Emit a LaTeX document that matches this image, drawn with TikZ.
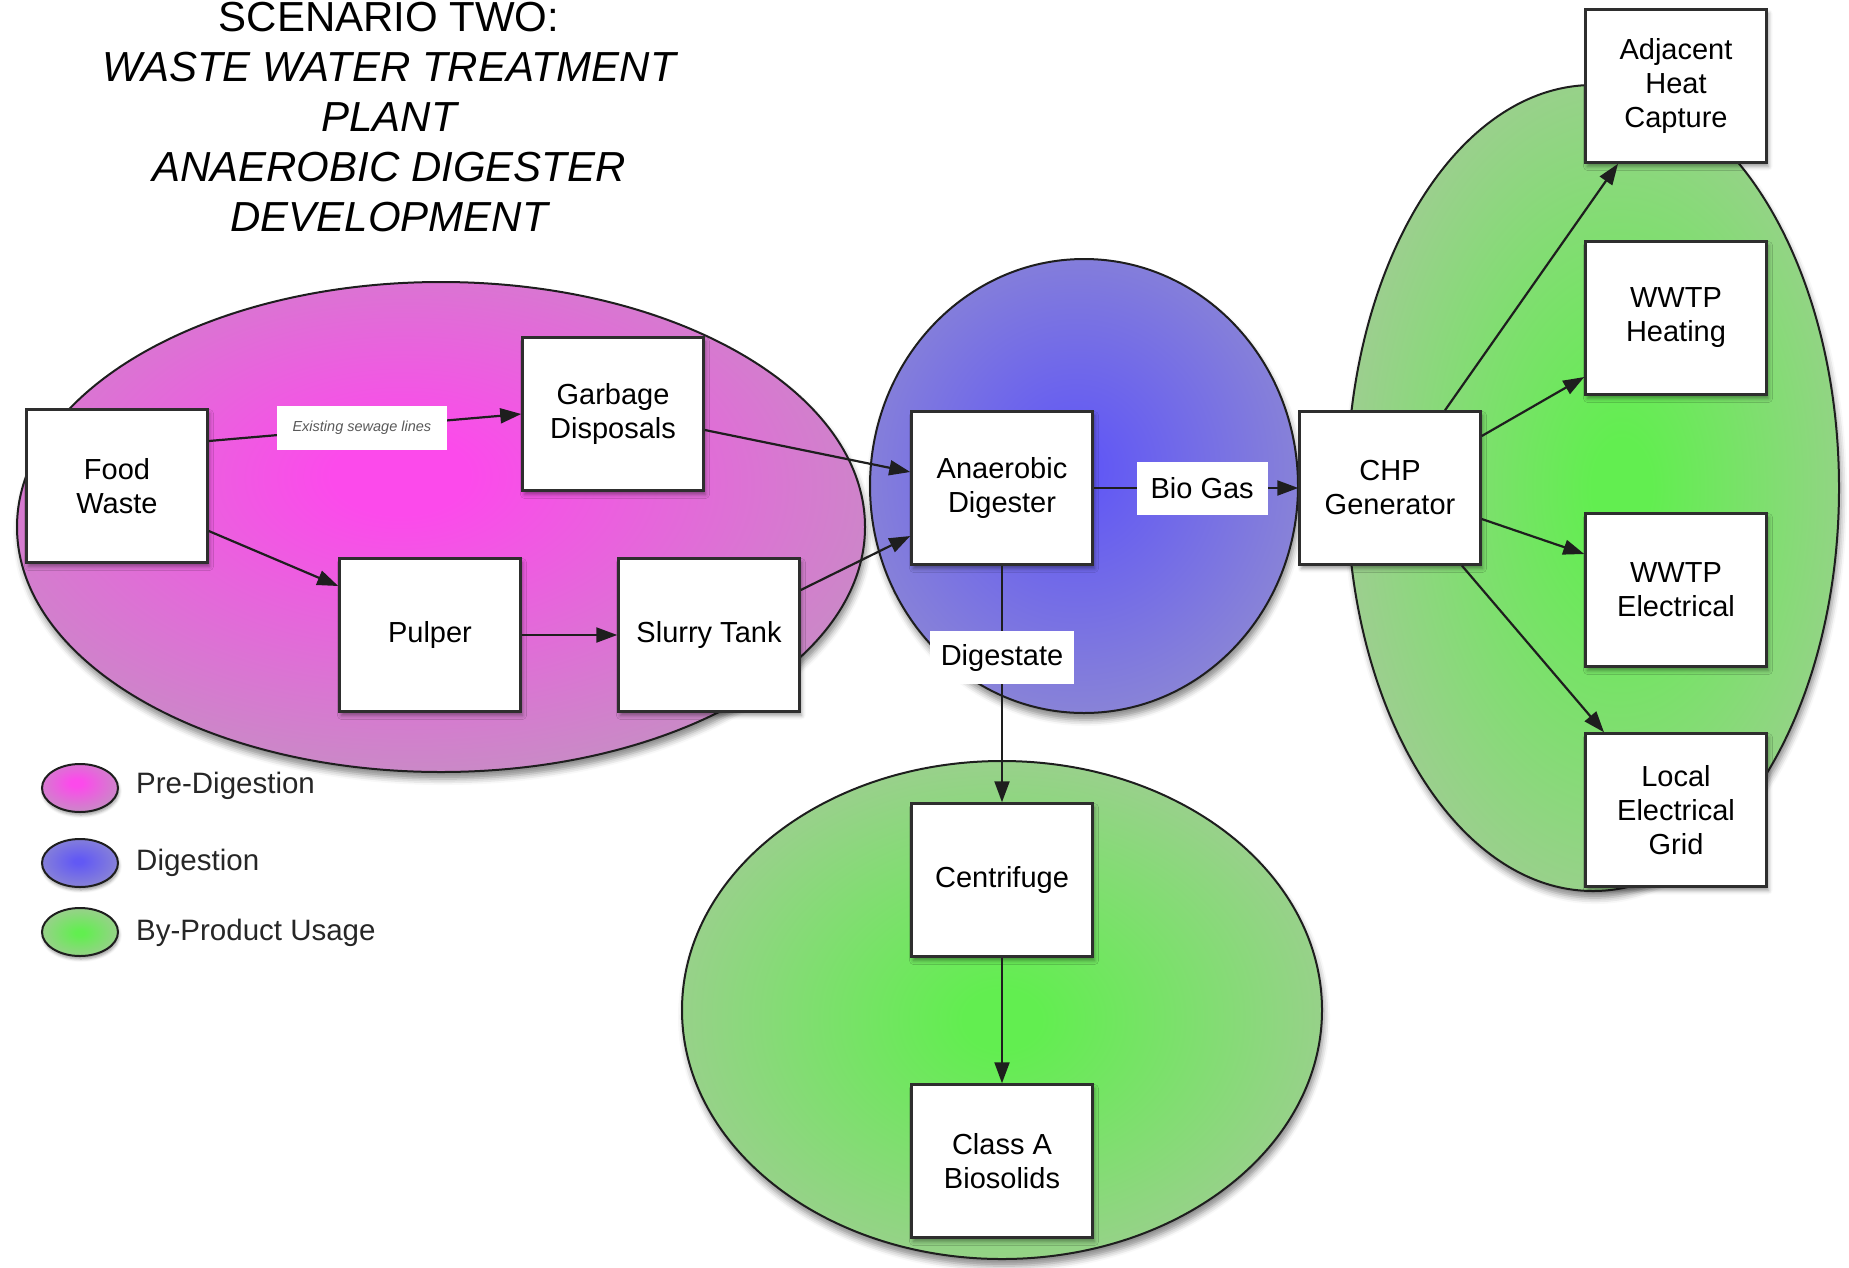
\documentclass[tikz,border=0pt]{standalone}
\usepackage{fontspec}
\setmainfont{Liberation Sans}
\usetikzlibrary{shapes.geometric,arrows.meta,calc,shadows.blur}

% zone colours
\definecolor{pinkIn}{HTML}{FC4AEB}
\definecolor{pinkOut}{HTML}{C68EC4}
\definecolor{blueIn}{HTML}{6259F4}
\definecolor{blueOut}{HTML}{8E89D3}
\definecolor{greenIn}{HTML}{62EE50}
\definecolor{greenOut}{HTML}{A3CB96}
\definecolor{inkline}{HTML}{1E1E1E}
\definecolor{boxline}{HTML}{2E2E2E}

\pgfdeclareradialshading{pinkglow}{\pgfpoint{-2.5bp}{5.5bp}}{color(0bp)=(pinkIn); color(4bp)=(pinkIn); color(31bp)=(pinkOut); color(100bp)=(pinkOut)}
\pgfdeclareradialshading{blueglow}{\pgfpoint{-1bp}{2bp}}{color(0bp)=(blueIn); color(3bp)=(blueIn); color(30bp)=(blueOut); color(100bp)=(blueOut)}
\pgfdeclareradialshading{greenglowR}{\pgfpoint{3bp}{0bp}}{color(0bp)=(greenIn); color(3bp)=(greenIn); color(30bp)=(greenOut); color(100bp)=(greenOut)}
\pgfdeclareradialshading{greenglowB}{\pgfpoint{0bp}{-1bp}}{color(0bp)=(greenIn); color(3bp)=(greenIn); color(30bp)=(greenOut); color(100bp)=(greenOut)}

\newcommand{\diagboxfont}{\fontsize{29pt}{34pt}\selectfont}
\newcommand{\diagtitlefont}{\fontsize{42pt}{50pt}\selectfont}

\tikzset{
  zone/.style={ellipse, draw=inkline, line width=2pt, inner sep=0pt, shade,
    blur shadow={shadow xshift=2pt, shadow yshift=-7pt, shadow blur radius=6pt, shadow opacity=45}},
  legzone/.style={ellipse, draw=inkline, line width=2pt, inner sep=0pt, shade,
    minimum width=76pt, minimum height=48pt,
    blur shadow={shadow xshift=1pt, shadow yshift=-3pt, shadow blur radius=3pt, shadow opacity=40}},
  stagebox/.style={rectangle, draw=boxline, line width=2.5pt, fill=white,
    minimum width=181pt, minimum height=153pt, inner sep=0pt, align=center,
    font=\diagboxfont,
    blur shadow={shadow xshift=2pt, shadow yshift=-4pt, shadow blur radius=4pt, shadow opacity=40}},
  tag/.style={fill=white, inner sep=0pt, minimum height=53pt, font=\diagboxfont},
  sewtag/.style={fill=white, inner sep=0pt, minimum width=170pt, minimum height=44pt,
    text=black!65, font=\fontsize{14.5pt}{17pt}\selectfont\itshape},
  legtext/.style={anchor=west, inner sep=0pt, font=\fontsize{29.5pt}{34pt}\selectfont, text=black!85},
  flow/.style={draw=inkline, line width=2.2pt, -{Triangle[length=21pt,width=15pt]}}
}

\begin{document}
\begin{tikzpicture}[x=1pt, y=-1pt]
\useasboundingbox (0,0) rectangle (1849,1267);

% title
\node[anchor=north, inner sep=0pt, align=center, font=\diagtitlefont] (title) at (389,2)
  {SCENARIO TWO:\\ \itshape WASTE WATER TREATMENT\\ \itshape PLANT\\ \itshape ANAEROBIC DIGESTER\\ \itshape DEVELOPMENT};

% stage zones (drawn first so everything else lies on top)
\node[zone, shading=pinkglow, minimum width=848pt, minimum height=490pt] (prezone) at (441,527) {};
\node[zone, shading=blueglow, minimum width=428pt, minimum height=454pt] (digzone) at (1084,486) {};
\node[zone, shading=greenglowR, minimum width=492pt, minimum height=806pt] (usezoneR) at (1593,488) {};
\node[zone, shading=greenglowB, minimum width=640pt, minimum height=498pt] (usezoneB) at (1002,1010) {};

% process boxes
\node[stagebox] (food) at (117,486) {Food\\Waste};
\node[stagebox] (garb) at (613,414) {Garbage\\Disposals};
\node[stagebox] (pulp) at (430,635) {Pulper};
\node[stagebox] (slur) at (709,635) {Slurry Tank};
\node[stagebox] (anae) at (1002,488) {Anaerobic\\Digester};
\node[stagebox] (chp)  at (1390,488) {CHP\\Generator};
\node[stagebox] (adj)  at (1676,86)  {Adjacent\\Heat\\Capture};
\node[stagebox] (heat) at (1676,318) {WWTP\\Heating};
\node[stagebox] (elec) at (1676,590) {WWTP\\Electrical};
\node[stagebox] (grid) at (1676,810) {Local\\Electrical\\Grid};
\node[stagebox] (cent) at (1002,880) {Centrifuge};
\node[stagebox] (bios) at (1002,1161) {Class A\\Biosolids};

% flows
\draw[flow] ($(food.east)+(0,-45)$) -- node[sewtag, pos=0.49] (sewlbl) {Existing sewage lines} (garb.west);
\draw[flow] ($(food.east)+(0,45)$) -- ($(pulp.west)+(0,-49)$);
\draw[flow] (pulp.east) -- (slur.west);
\draw[flow] ($(garb.east)+(0,16)$) -- ($(anae.west)+(0,-16)$);
\draw[flow] ($(slur.east)+(0,-45)$) -- ($(anae.west)+(0,48)$);
\draw[flow] (anae.east) -- node[tag, pos=0.53, inner xsep=14pt] (gaslbl) {Bio Gas} (chp.west);
\draw[flow] (anae.south) -- node[tag, pos=0.39, inner xsep=11pt] (diglbl) {Digestate} (cent.north);
\draw[flow] (cent.south) -- (bios.north);
\draw[flow] ($(chp.north)+(55,0)$) -- ($(adj.south)+(-58,0)$);
\draw[flow] ($(chp.east)+(0,-52)$) -- ($(heat.west)+(0,59)$);
\draw[flow] ($(chp.east)+(0,31)$) -- ($(elec.west)+(0,-36)$);
\draw[flow] ($(chp.south)+(72,0)$) -- ($(grid.north)+(-72,0)$);

% legend
\node[legzone, shading=pinkglow] (legpre) at (80,788) {};
\node[legzone, shading=blueglow] (legdig) at (80,863) {};
\node[legzone, shading=greenglowB] (leguse) at (80,932) {};
\node[legtext] (legpretxt) at (136,786) {Pre-Digestion};
\node[legtext] (legdigtxt) at (136,863) {Digestion};
\node[legtext] (legusetxt) at (136,933) {By-Product Usage};
\end{tikzpicture}
\end{document}
